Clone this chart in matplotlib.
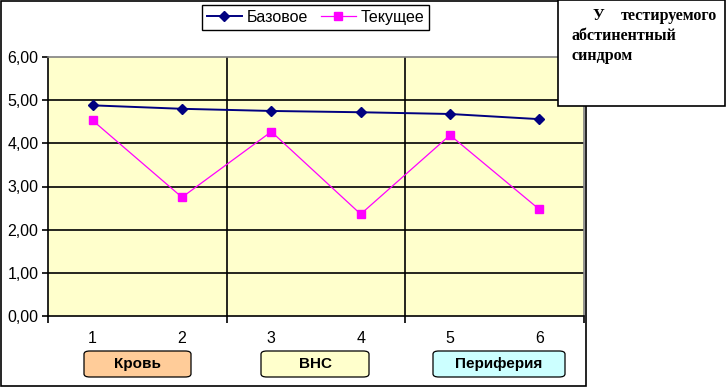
import matplotlib
matplotlib.use("Agg")
import matplotlib.pyplot as plt
from matplotlib.patches import Rectangle, FancyBboxPatch

W, H = 726, 387

categories = [1, 2, 3, 4, 5, 6]
base_vals = [4.88, 4.80, 4.75, 4.72, 4.68, 4.56]
cur_vals = [4.53, 2.75, 4.27, 2.36, 4.19, 2.47]
y_ticks = [0, 1, 2, 3, 4, 5, 6]
y_labels = ["0,00", "1,00", "2,00", "3,00", "4,00", "5,00", "6,00"]
series_names = ["Базовое", "Текущее"]
groups = ["Кровь", "ВНС", "Периферия"]
group_colors = ["#FFCC99", "#FFFFCC", "#CCFFFF"]
note_lines = ["абстинентный", "синдром"]

SANS = ["Liberation Sans", "DejaVu Sans"]
SERIF = ["Liberation Serif", "DejaVu Serif"]
plt.rcParams["font.family"] = SANS


def fx(px):
    return px / W


def fy(py):
    return 1 - py / H


fig = plt.figure(figsize=(W / 100, H / 100), dpi=100)
fig.patch.set_facecolor("white")

# outer chart frame
fig.patches.append(Rectangle((fx(1), fy(386)), fx(585), 385 / H, transform=fig.transFigure,
                             fill=False, edgecolor="black", linewidth=1.2, zorder=0))

ax = fig.add_axes([fx(48), fy(316), fx(584 - 48), (316 - 57) / H])
ax.set_facecolor("#FFFFCC")
ax.set_xlim(0.5, 6.5)
ax.set_ylim(0, 6)

for v in y_ticks[1:-1]:
    ax.axhline(v, color="black", linewidth=1.2, zorder=1)
for v in (2.5, 4.5):
    ax.axvline(v, color="black", linewidth=1.2, zorder=1)

ax.plot(categories, base_vals, color="#000080", linewidth=1.4, marker="D",
        markersize=5.5, label=series_names[0], zorder=3)
ax.plot(categories, cur_vals, color="#FF00FF", linewidth=0.9, marker="s",
        markersize=6, label=series_names[1], zorder=3)

ax.set_yticks(y_ticks)
ax.set_yticklabels(y_labels, fontsize=11.5)
ax.set_xticks([0.5, 2.5, 4.5, 6.5])
ax.set_xticklabels([])
ax.set_xticks(categories, minor=True)
ax.set_xticklabels([str(c) for c in categories], minor=True, fontsize=11.5)
ax.tick_params(axis="x", which="major", length=5, width=1.2, color="black", direction="out")
ax.tick_params(axis="x", which="minor", length=0, pad=11)
ax.tick_params(axis="y", length=4, width=1.2, pad=3)

for side in ("left", "bottom"):
    ax.spines[side].set_color("black")
    ax.spines[side].set_linewidth(1.2)
for side in ("top", "right"):
    ax.spines[side].set_color("#808080")
    ax.spines[side].set_linewidth(1.2)

leg = fig.legend(loc="center", bbox_to_anchor=(fx(315.5), fy(17.5)), ncol=2,
                 fancybox=False, edgecolor="black", framealpha=1, fontsize=11.5,
                 handlelength=2.2, handletextpad=0.3, columnspacing=0.8,
                 borderpad=0.3)
leg.get_frame().set_linewidth(1.0)

# group boxes under the axis
boxes = [(84, 191), (261, 369), (433, 565)]
for (x0, x1), name, col in zip(boxes, groups, group_colors):
    fig.patches.append(FancyBboxPatch((fx(x0), fy(377)), fx(x1 - x0), 26 / H,
                                      boxstyle="round,pad=0,rounding_size=0.008",
                                      transform=fig.transFigure, facecolor=col,
                                      edgecolor="black", linewidth=0.9, zorder=2))
    fig.text(fx((x0 + x1) / 2), fy(364), name, ha="center", va="center",
             fontsize=11, fontweight="bold", zorder=3)

# note box at top right
fig.patches.append(Rectangle((fx(558), fy(106)), fx(167), 106 / H, transform=fig.transFigure,
                             facecolor="white", edgecolor="black", linewidth=1.2, zorder=4))
fig.text(fx(593), fy(20), "У", family=SERIF, fontsize=11.5, fontweight="bold",
         va="baseline", zorder=5)
fig.text(fx(621), fy(20), "тестируемого", family=SERIF, fontsize=11.5, fontweight="bold",
         va="baseline", zorder=5)
fig.text(fx(571), fy(40), note_lines[0], family=SERIF, fontsize=11.5, fontweight="bold",
         va="baseline", zorder=5)
fig.text(fx(571), fy(60), note_lines[1], family=SERIF, fontsize=11.5, fontweight="bold",
         va="baseline", zorder=5)

fig.savefig("out.png", dpi=100, facecolor="white")
